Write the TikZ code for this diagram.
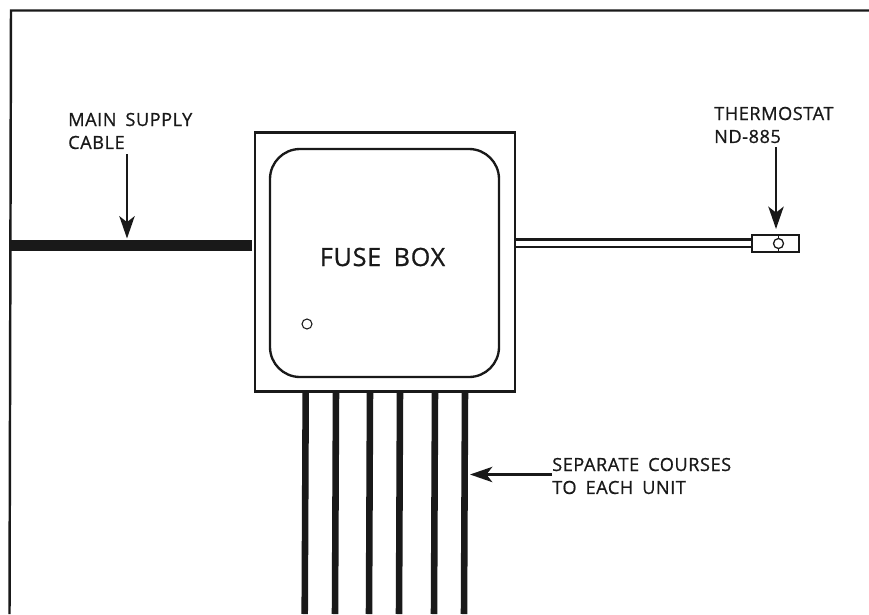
\documentclass[tikz,border=0pt]{standalone}
\usepackage{fontspec}
\setmainfont{Open Sans}
\newfontfamily\signfont{Open Sans}[FakeBold=0.8,LetterSpace=3,WordSpace=1.7]
\usepackage{tikz}
\usetikzlibrary{arrows.meta,positioning,calc}

\tikzset{
  caption/.style={font=\signfont\fontsize{15.5}{19.6}\selectfont, align=left, text=black!90, inner sep=0pt},
  pointer/.style={-{Stealth[length=19pt,width=13pt,inset=5pt]},line width=2.4pt,black!90},
  course/.style={line width=5.6pt,black!90},
  wire/.style={line width=1.9pt,black!90},
}

\begin{document}
\begin{tikzpicture}[x=0.03cm,y=-0.03cm]
    \useasboundingbox (0,0) rectangle (869,614);
    % frame
    \draw[line width=2.1pt,black!90] (9.5,614) -- (11,10.5) -- (869,10.5);
    % fuse box
    \node[draw,line width=1.9pt,minimum width=0.03cm*260,minimum height=0.03cm*259,inner sep=0pt,black!90] (box) at (385,262) {};
    \node[draw,line width=2pt,rounded corners=0.03cm*30,minimum width=0.03cm*229,minimum height=0.03cm*228,inner sep=0pt,black!90] (panel) at (384.5,263) {};
    \node[font=\signfont\fontsize{21.5}{24}\selectfont,text=black!90,inner sep=0pt] (fuse) at (382.5,257) {FUSE BOX};
    \node[draw,circle,line width=0.9pt,minimum size=0.03cm*10,inner sep=0pt,black!90] (lamp) at (307,324) {};
    % main cable
    \coordinate (mainstart) at (11,245.3);
    \coordinate (mainend) at (252,245.3);
    \draw[line width=9pt,black!90] (mainstart) -- (mainend);
    % thermostat
    \node[draw,line width=1.7pt,minimum width=0.03cm*47,minimum height=0.03cm*17,inner sep=0pt,black!90] (thermo) at (775.5,243.5) {};
    \node[draw,circle,line width=1.1pt,minimum size=0.03cm*10,inner sep=0pt,black!90] (bulb) at (778.5,243.5) {};
    \draw[line width=1.4pt,black!90] (bulb.north) -- (bulb.north |- thermo.north);
    \draw[line width=1.4pt,black!90] (bulb.south) -- (bulb.south |- thermo.south);
    \draw[wire] (box.east |- 0,239.5) -- (thermo.west |- 0,239.5);
    \draw[wire] (box.east |- 0,247) -- (thermo.west |- 0,247);
    % courses
    \foreach \xa/\xb/\n in {305.7/304.7/a,336/335/b,370/369/c,400/399/d,435/434/e,465/464/f} {
        \coordinate (top\n) at (\xa,391);
        \coordinate (bot\n) at (\xb,614);
        \draw[course] (top\n) -- (bot\n);
    }
    % labels
    \node[caption,anchor=west] (mainlabel) at (68,131) {MAIN SUPPLY\\CABLE};
    \node[caption,anchor=west] (thermolabel) at (714,125) {THERMOSTAT\\ND-885};
    \node[caption,anchor=west] (courselabel) at (552,476) {SEPARATE COURSES\\TO EACH UNIT};
    % arrows
    \coordinate (mainfrom) at (127,154);
    \coordinate (maintip) at (127,238.5);
    \coordinate (thermofrom) at (776,147);
    \coordinate (thermotip) at (776,229);
    \coordinate (coursefrom) at (552,474.5);
    \coordinate (coursetip) at (470,474.5);
    \draw[pointer] (mainfrom) -- (maintip);
    \draw[pointer] (thermofrom) -- (thermotip);
    \draw[pointer] (coursefrom) -- (coursetip);
\end{tikzpicture}
\end{document}
